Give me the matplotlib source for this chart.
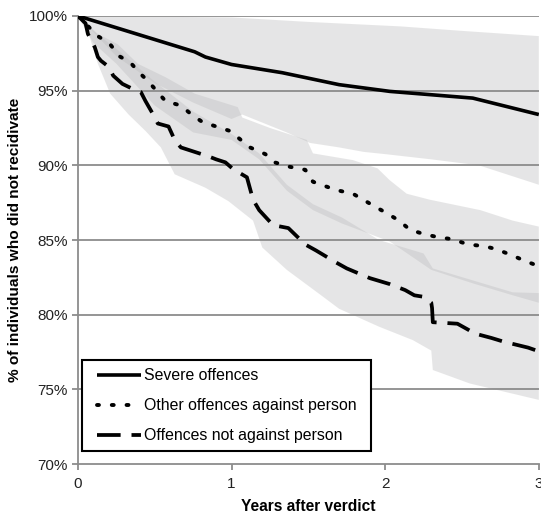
import numpy as np
import matplotlib
matplotlib.use("Agg")
import matplotlib.pyplot as plt
from matplotlib.legend_handler import HandlerLine2D

plt.rcParams['font.family'] = ['Liberation Sans', 'DejaVu Sans']

# survival curves (years, % not recidivated)
severe_x = [0, 0.76, 0.83, 1.0, 1.33, 1.70, 2.03, 2.57, 3.0]
severe_y = [100, 97.6, 97.25, 96.75, 96.2, 95.4, 94.95, 94.5, 93.4]

other_x = [0, 0.13, 0.21, 0.27, 0.34, 0.40, 0.46, 0.57, 0.67, 0.74, 0.81, 0.90, 0.99,
           1.12, 1.22, 1.28, 1.38, 1.48, 1.53, 1.68, 1.79, 1.94, 2.01, 2.09, 2.16,
           2.25, 2.34, 2.44, 2.54, 2.64, 2.72, 2.82, 2.91, 3.0]
other_y = [100, 98.65, 98.1, 97.3, 96.9, 96.2, 95.6, 94.3, 94.0, 93.4, 92.9, 92.6, 92.3,
           91.2, 90.75, 90.2, 89.9, 89.7, 88.9, 88.35, 88.1, 87.2, 86.8, 86.3, 85.7,
           85.4, 85.2, 85.05, 84.7, 84.6, 84.4, 84.0, 83.6, 83.25]

notperson_x = [0, 0.05, 0.065, 0.11, 0.13, 0.15, 0.2, 0.23, 0.29, 0.36, 0.41, 0.44, 0.49,
               0.52, 0.59, 0.63, 0.67, 0.85, 0.9, 0.96, 1.01, 1.1, 1.14, 1.18, 1.27, 1.37,
               1.48, 1.55, 1.68, 1.75, 1.9, 2.03, 2.13, 2.19, 2.25, 2.3, 2.305, 2.31, 2.47,
               2.54, 2.58, 2.69, 2.77, 2.83, 2.93, 3.0]
notperson_y = [100, 99.5, 98.8, 97.9, 97.25, 97.0, 96.6, 96.0, 95.45, 95.1, 94.9, 94.3, 93.4,
               92.8, 92.6, 91.7, 91.2, 90.6, 90.4, 90.2, 89.75, 89.2, 87.7, 87.0, 86.0, 85.8,
               84.7, 84.3, 83.5, 83.1, 82.45, 82.05, 81.65, 81.3, 81.2, 80.8, 80.45, 79.5, 79.4,
               79.0, 78.75, 78.45, 78.2, 78.05, 77.8, 77.55]

# confidence bands
severe_up_x = [0, 0.5, 1.0, 1.5, 2.1, 2.5, 3.0]
severe_up_y = [100, 99.95, 99.9, 99.6, 99.3, 99.0, 98.65]
severe_lo_x = [0, 0.25, 0.5, 0.75, 1.0, 1.07, 1.36, 1.51, 1.70, 1.86, 2.0, 2.3, 2.61, 3.0]
severe_lo_y = [100, 97.3, 95.5, 94.2, 93.1, 93.4, 92.2, 91.5, 91.2, 90.9, 90.75, 90.4, 90.0, 88.7]

other_up_x = [0, 0.13, 0.26, 0.39, 0.57, 0.76, 1.04, 1.07, 1.25, 1.49, 1.53, 1.79, 1.95,
              2.03, 2.14, 2.29, 2.62, 2.83, 3.0]
other_up_y = [100, 98.8, 98.1, 96.8, 95.9, 94.8, 93.9, 93.2, 92.5, 91.7, 90.8, 90.35, 89.8,
              89.0, 88.1, 87.7, 87.0, 86.3, 85.9]
other_lo_x = [0, 0.1, 0.25, 0.5, 0.75, 1.0, 1.18, 1.36, 1.53, 1.72, 2.03, 2.3, 2.57, 2.83, 3.0]
other_lo_y = [100, 98.2, 96.8, 94.0, 92.2, 91.7, 90.4, 88.3, 87.0, 86.1, 84.9, 83.0, 82.1, 81.3, 80.8]

notperson_up_x = [0, 0.1, 0.25, 0.5, 0.75, 1.0, 1.18, 1.36, 1.53, 1.72, 1.96, 2.25, 2.31, 2.57, 2.83, 3.0]
notperson_up_y = [100, 99.0, 97.8, 95.6, 93.6, 92.1, 90.8, 88.7, 87.4, 86.5, 85.0, 84.1, 83.1, 82.3, 81.5, 81.45]
notperson_lo_x = [0, 0.07, 0.13, 0.21, 0.33, 0.44, 0.54, 0.63, 0.83, 0.98, 1.14, 1.2, 1.36,
                  1.57, 1.7, 1.96, 2.18, 2.3, 2.31, 2.55, 3.0]
notperson_lo_y = [100, 98.8, 96.8, 94.8, 93.4, 92.3, 91.2, 89.4, 88.5, 87.6, 86.3, 84.5, 83.0,
                  81.4, 80.4, 79.2, 78.3, 77.6, 76.3, 75.4, 74.3]

labels = ["Severe offences", "Other offences against person", "Offences not against person"]
yticks = [70, 75, 80, 85, 90, 95, 100]

fig = plt.figure(figsize=(5.41, 5.14), dpi=100)
ax = fig.add_axes([0.144, 0.097, 0.852, 0.872])

band_col = (0.74, 0.74, 0.75)
for ux, uy, lx, ly in [(severe_up_x, severe_up_y, severe_lo_x, severe_lo_y),
                       (other_up_x, other_up_y, other_lo_x, other_lo_y),
                       (notperson_up_x, notperson_up_y, notperson_lo_x, notperson_lo_y)]:
    ax.fill(np.r_[ux, lx[::-1]], np.r_[uy, ly[::-1]], color=band_col, alpha=0.38, lw=0, zorder=1)

for y in yticks[1:]:
    ax.axhline(y, color='#8c8c8c', lw=1.3, zorder=2)

ax.plot(severe_x, severe_y, color='black', lw=2.6, solid_capstyle='butt', zorder=3, label=labels[0])
ax.plot(other_x, other_y, color='black', lw=2.8, linestyle=(0, (0.5, 3.3)),
        dash_capstyle='round', zorder=3, label=labels[1])
ax.plot(notperson_x, notperson_y, color='black', lw=2.7, linestyle=(0, (6.3, 2.9)),
        dash_capstyle='butt', zorder=3, label=labels[2])

ax.set_xlim(0, 3)
ax.set_ylim(70, 100)
ax.set_xticks([0, 1, 2, 3])
ax.set_yticks(yticks)
ax.set_yticklabels([f"{v}%" for v in yticks])
for s in ['top', 'right']:
    ax.spines[s].set_visible(False)
for s in ['left', 'bottom']:
    ax.spines[s].set_color('#8c8c8c')
    ax.spines[s].set_linewidth(1.3)
ax.tick_params(colors='#8c8c8c', labelcolor='#222222', labelsize=11, length=4, width=1.3)
ax.tick_params(axis='x', pad=5)

ax.set_xlabel("Years after verdict", fontweight='bold', fontsize=11.2, labelpad=6)
ax.set_ylabel("% of individuals who did not recidivate", fontweight='bold', fontsize=11.1, labelpad=5)

hm = {h: HandlerLine2D(xpad=0.45) for h in ax.get_lines()}
leg = ax.legend(loc='lower left', bbox_to_anchor=(0.009, 0.029, 0.627, 0.2), mode='expand',
                fontsize=11.4, handlelength=3.2, handletextpad=0.2, labelspacing=0.95,
                fancybox=False, framealpha=1, edgecolor='black', borderpad=0.5,
                borderaxespad=0, handler_map=hm)
leg.get_frame().set_linewidth(1.5)

fig.savefig("out.png", dpi=100)
